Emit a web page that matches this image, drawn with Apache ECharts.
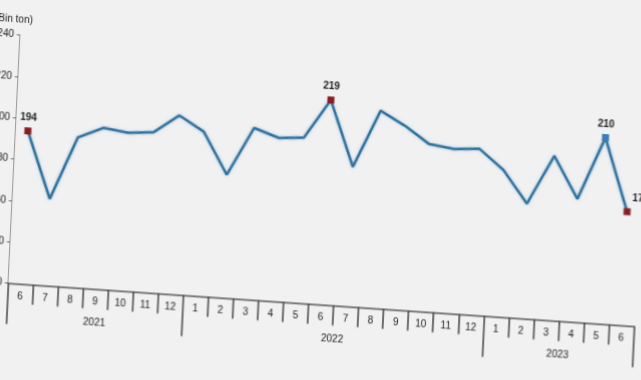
<!DOCTYPE html>
<html>
<head>
<meta charset="utf-8">
<script src="https://cdn.jsdelivr.net/npm/echarts@6/dist/echarts.min.js"></script>
<style>
  html, body { margin: 0; padding: 0; width: 641px; height: 380px; overflow: hidden; background: #f1f1f1; }
  #chart { position: absolute; left: 0; top: 0; width: 660px; height: 380px;
           transform-origin: 0 0; transform: matrix(1, 0.069, -0.048, 1, 0, 0); }
</style>
</head>
<body>
<div id="chart"></div>
<script>
// ---- data ----
const months = ['6','7','8','9','10','11','12','1','2','3','4','5','6','7','8','9','10','11','12','1','2','3','4','5','6'];
const values = [194, 162, 192.5, 198, 196.5, 197.5, 206.5, 199.5, 179.5, 203, 199, 200, 219, 187.5, 215.5, 209, 201, 199.5, 200.5, 191, 175.5, 199.5, 179.5, 210, 175];
const years = ['2021', '2022', '2023'];
const yearMonthCounts = [7, 12, 6];
const yMin = 120, yMax = 240, yStep = 20;
const unitLabel = '(Bin ton)';
const markedIndex = [0, 12, 23, 24];
const markedColor = ['#8a1d24', '#8a1d24', '#3b7db6', '#8a1d24'];

// ---- derived helpers ----
const yearBounds = [-0.5];
const yearCenters = [];
let acc = 0;
yearMonthCounts.forEach(function (c) {
  yearCenters.push(acc + (c - 1) / 2);
  acc += c;
  yearBounds.push(acc - 0.5);
});

const seriesData = values.map(function (v, i) {
  const k = markedIndex.indexOf(i);
  if (k < 0) return v;
  const last = i === values.length - 1;
  return {
    value: v,
    symbol: 'rect',
    symbolSize: 7,
    itemStyle: { color: markedColor[k] },
    label: {
      show: true,
      position: 'top',
      distance: 5,
      offset: last ? [13, 0] : [0, 0],
      formatter: String(Math.round(v))
    }
  };
});

const chart = echarts.init(document.getElementById('chart'), null, { renderer: 'canvas' });
chart.setOption({
  animation: false,
  backgroundColor: '#f1f1f1',
  textStyle: { fontFamily: 'Liberation Sans, Arial, sans-serif' },
  title: {
    text: unitLabel,
    left: -9,
    top: 8,
    textStyle: { fontSize: 10, fontWeight: 'normal', color: '#222', fontFamily: 'Liberation Sans, Arial, sans-serif' }
  },
  grid: { left: 21.5, right: 12.4, top: 33.5, bottom: 98.5, containLabel: false, outerBoundsMode: 'none' },
  xAxis: [
    {
      type: 'category',
      data: months,
      boundaryGap: true,
      position: 'bottom',
      axisLine: { show: true, onZero: false, lineStyle: { color: '#555', width: 1.5 } },
      axisTick: { show: true, interval: 0, length: 20, lineStyle: { color: '#444', width: 1.5 } },
      axisLabel: { interval: 0, margin: 8, fontSize: 10, color: '#222' },
      splitLine: { show: false }
    },
    {
      type: 'value',
      min: -0.5,
      max: values.length - 0.5,
      position: 'bottom',
      axisLine: { show: false, onZero: false },
      splitLine: { show: false },
      axisTick: { show: true, customValues: yearBounds, length: 41, lineStyle: { color: '#444', width: 1.5 } },
      axisLabel: {
        customValues: yearCenters,
        margin: 29,
        fontSize: 10,
        color: '#222',
        formatter: function (v) {
          const k = yearCenters.findIndex(function (c) { return Math.abs(c - v) < 0.01; });
          return k >= 0 ? years[k] : '';
        }
      }
    }
  ],
  yAxis: {
    type: 'value',
    min: yMin,
    max: yMax,
    interval: yStep,
    axisLine: { show: true, onZero: false, lineStyle: { color: '#999', width: 1 } },
    axisTick: { show: true, length: 3, lineStyle: { color: '#666' } },
    axisLabel: { margin: 6, fontSize: 10, color: '#222' },
    splitLine: { show: false }
  },
  series: [{
    type: 'line',
    xAxisIndex: 0,
    data: seriesData,
    symbol: 'none',
    lineStyle: { color: '#30709b', width: 2.5, shadowColor: 'rgba(110,170,215,0.6)', shadowBlur: 3 },
    itemStyle: { color: '#30709b' },
    label: { show: false, fontSize: 10, color: '#222', fontWeight: 'bold' }
  }]
});
</script>
</body>
</html>
